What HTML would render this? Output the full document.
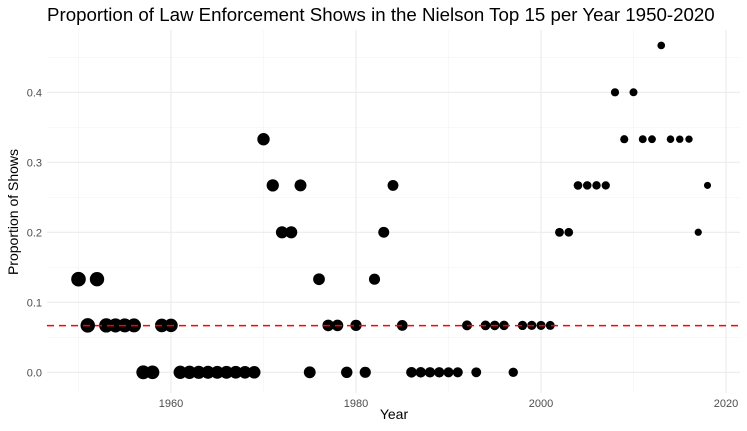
<!DOCTYPE html>
<html><head><meta charset="utf-8"><style>
html,body{margin:0;padding:0;background:#fff;}
svg{display:block;font-family:"Liberation Sans",sans-serif;}
</style></head><body>
<svg id="s" width="747" height="431" viewBox="0 0 747 431" xmlns="http://www.w3.org/2000/svg">
<rect width="747" height="431" fill="#fff"/>
<g id="grid"></g>
<g id="pts"></g>
<line x1="47" x2="740" y1="325.6" y2="325.6" stroke="#ff0000" stroke-width="1.5" stroke-dasharray="7,5"/>
<text x="47" y="21" font-size="18.7" fill="#000">Proportion of Law Enforcement Shows in the Nielson Top 15 per Year 1950-2020</text>
<text x="394" y="419" font-size="14" text-anchor="middle" fill="#000">Year</text>
<text transform="translate(18,212) rotate(-90)" font-size="14" text-anchor="middle" fill="#000">Proportion of Shows</text>
<g id="labs" font-size="11" fill="#4d4d4d"></g>
</svg>
<script>
const NS="http://www.w3.org/2000/svg";
const X=y=>171+(y-1960)*9.25, Y=v=>372.3-v*700;
const g=document.getElementById('grid'),p=document.getElementById('pts'),l=document.getElementById('labs');
function el(par,t,a,txt){const e=document.createElementNS(NS,t);for(const k in a)e.setAttribute(k,a[k]);if(txt)e.textContent=txt;par.appendChild(e);}
for(let v=0.05;v<0.47;v+=0.1)el(g,'line',{x1:47,x2:740,y1:Y(v),y2:Y(v),stroke:'#f3f3f3','stroke-width':0.6});
for(let yr=1950;yr<=2010;yr+=20)el(g,'line',{x1:X(yr),x2:X(yr),y1:30,y2:393,stroke:'#f3f3f3','stroke-width':0.6});
for(let v=0;v<0.45;v+=0.1){el(g,'line',{x1:47,x2:740,y1:Y(v),y2:Y(v),stroke:'#ebebeb','stroke-width':1.1});el(l,'text',{x:42,y:Y(v)+4,'text-anchor':'end'},v.toFixed(1));}
for(let yr=1960;yr<=2020;yr+=20){el(g,'line',{x1:X(yr),x2:X(yr),y1:30,y2:393,stroke:'#ebebeb','stroke-width':1.1});el(l,'text',{x:X(yr),y:407,'text-anchor':'middle'},String(yr));}
const d={1950:.133,1951:.067,1952:.133,1953:.067,1954:.067,1955:.067,1956:.067,1957:0,1958:0,1959:.067,1960:.067,
1961:0,1962:0,1963:0,1964:0,1965:0,1966:0,1967:0,1968:0,1969:0,1970:.333,1971:.267,1972:.2,1973:.2,1974:.267,1975:0,1976:.133,
1977:.067,1978:.067,1979:0,1980:.067,1981:0,1982:.133,1983:.2,1984:.267,1985:.067,1986:0,1987:0,1988:0,1989:0,1990:0,1991:0,
1992:.067,1993:0,1994:.067,1995:.067,1996:.067,1997:0,1998:.067,1999:.067,2000:.067,2001:.067,2002:.2,2003:.2,2004:.267,2005:.267,
2006:.267,2007:.267,2008:.4,2009:.333,2010:.4,2011:.333,2012:.333,2013:.467,2014:.333,2015:.333,2016:.333,2017:.2,2018:.267};
for(const k in d){const yr=+k;const r=7.3-(yr-1950)*0.055;el(p,'circle',{cx:X(yr),cy:Y(d[k]),r:r,fill:'#000'});}
</script>
</body></html>
